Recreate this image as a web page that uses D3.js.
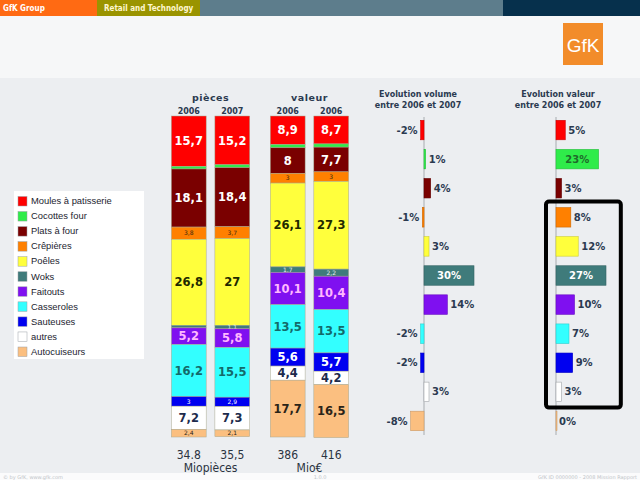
<!DOCTYPE html>
<html>
<head>
<meta charset="utf-8">
<script src="https://cdn.jsdelivr.net/npm/d3@7"></script>
<style>
  body { margin: 0; background: #eceef1; }
  svg { display: block; }
</style>
</head>
<body>
<svg id="chart" width="640" height="480"></svg>
<script>
// categories, top of the stack first
const categories = ["Moules à patisserie", "Cocottes four", "Plats à four", "Crêpières", "Poêles",
  "Woks", "Faitouts", "Casseroles", "Sauteuses", "autres", "Autocuiseurs"];
const colors = ["#ff0000", "#2fec4a", "#7a0000", "#ff8000", "#ffff3c",
  "#3f7b7b", "#7f10f0", "#33ffff", "#0000f0", "#ffffff", "#fbbf80"];
const labelColors = ["#ffffff", "#1a5a20", "#ffffff", "#3a2a10", "#1f2a00",
  "#e6eeee", "#ffb8ff", "#136a6a", "#ffffff", "#1d2b4c", "#2a2418"];

const groups = ["pièces", "valeur"];
const years = ["2006", "2007", "2006", "2006"];
const pieces2006 = [15.7, 0.8, 18.1, 3.8, 26.8, 0.8, 5.2, 16.2, 3, 7.2, 2.4];
const pieces2007 = [15.2, 0.9, 18.4, 3.7, 27, 1.1, 5.8, 15.5, 2.9, 7.3, 2.1];
const valeur2006 = [8.9, 1.0, 8, 3, 26.1, 1.7, 10.1, 13.5, 5.6, 4.4, 17.7];
const valeur2007 = [8.7, 1.0, 7.7, 3, 27.3, 2.2, 10.4, 13.5, 5.7, 4.2, 16.5];
const totals = ["34.8", "35,5", "386", "416"];
const units = ["Miopièces", "Mio€"];

const evolVolume = [-2, 1, 4, -1, 3, 30, 14, -2, -2, 3, -8];
const evolValeur = [5, 23, 3, 8, 12, 27, 10, 7, 9, 3, 0];

const svg = d3.select("#chart");
const FONT = "DejaVu Sans, sans-serif";
const COND = "DejaVu Sans Condensed, sans-serif";
const navy = "#2b3a50";

// page frame
svg.append("rect").attr("x", 0).attr("y", 16).attr("width", 640).attr("height", 62).attr("fill", "#f6f7f8");
svg.append("rect").attr("x", 0).attr("y", 0).attr("width", 97).attr("height", 16).attr("fill", "#ff6a13");
svg.append("rect").attr("x", 97).attr("y", 0).attr("width", 103).attr("height", 16).attr("fill", "#9a9400");
svg.append("rect").attr("x", 200).attr("y", 0).attr("width", 303).attr("height", 16).attr("fill", "#5d7d8c");
svg.append("rect").attr("x", 503).attr("y", 0).attr("width", 137).attr("height", 16).attr("fill", "#06304c");
svg.append("text").attr("x", 3).attr("y", 11).text("GfK Group")
  .attr("font-family", COND).attr("font-size", 8).attr("font-weight", "bold").attr("fill", "#fff");
svg.append("clipPath").attr("id", "hdr").append("rect").attr("x", 97).attr("y", 0).attr("width", 103).attr("height", 16);
svg.append("text").attr("x", 104).attr("y", 11).text("Retail and Technology")
  .attr("clip-path", "url(#hdr)")
  .attr("font-family", COND).attr("font-size", 8).attr("font-weight", "bold").attr("fill", "#fff8d0");

svg.append("rect").attr("x", 563).attr("y", 23).attr("width", 40).attr("height", 42).attr("fill", "#f28c2a");
svg.append("text").attr("x", 583).attr("y", 52).attr("text-anchor", "middle").text("GfK")
  .attr("font-family", "Liberation Sans, sans-serif").attr("font-size", 19).attr("fill", "#fff");

// footer
svg.append("rect").attr("x", 0).attr("y", 473).attr("width", 640).attr("height", 7).attr("fill", "#fbfbfc");
const foot = svg.append("g").attr("font-family", FONT).attr("font-size", 5).attr("fill", "#c0c4c8");
foot.append("text").attr("x", 3).attr("y", 479).text("© by GfK, www.gfk.com");
foot.append("text").attr("x", 320).attr("y", 479).attr("text-anchor", "middle").text("1.0.0");
foot.append("text").attr("x", 637).attr("y", 479).attr("text-anchor", "end").text("GfK ID 0000000 - 2008 Mission Rapport");

// legend
const leg = svg.append("g");
leg.append("rect").attr("x", 14).attr("y", 191).attr("width", 130).attr("height", 168).attr("fill", "#fff");
const legY = d3.scalePoint().domain(categories).range([201, 351.5]);
categories.forEach((c, i) => {
  leg.append("rect").attr("x", 18).attr("y", legY(c) - 4.5).attr("width", 9).attr("height", 9.5)
    .attr("fill", colors[i]).attr("stroke", "#9aa0a6").attr("stroke-width", 0.5);
  leg.append("text").attr("x", 31).attr("y", legY(c)).attr("dy", "0.35em").text(c)
    .attr("font-family", "Liberation Sans, sans-serif").attr("font-size", 9.4).attr("fill", "#1c2430");
});

// stacked bars
const bars = [pieces2006, pieces2007, valeur2006, valeur2007].map((vals, b) => {
  const row = { group: groups[Math.floor(b / 2)], idx: b % 2, year: years[b], total: totals[b] };
  categories.forEach((c, i) => row[c] = vals[i]);
  return row;
});

const x0 = d3.scaleBand().domain(groups).range([167, 353]).paddingInner(0.12);
const x1 = d3.scaleBand().domain([0, 1]).range([0, x0.bandwidth()]).paddingInner(0.2).paddingOuter(0.1);
const y = d3.scaleLinear().domain([0, 100]).range([116, 437]);

const series = d3.stack().keys(categories)(bars);
const barG = svg.append("g");
series.forEach((s, i) => {
  s.forEach(d => {
    const bx = x0(d.data.group) + x1(d.data.idx);
    const v = d.data[s.key];
    barG.append("rect").attr("x", bx).attr("y", y(d[0])).attr("width", x1.bandwidth())
      .attr("height", y(d[1]) - y(d[0])).attr("fill", colors[i])
      .attr("stroke", "#a8a890").attr("stroke-width", 0.5);
    if (v > 1) {
      const small = v < 4;
      barG.append("text").attr("x", bx + x1.bandwidth() / 2).attr("y", y((d[0] + d[1]) / 2))
        .attr("dy", "0.36em").attr("text-anchor", "middle")
        .text(String(v).replace(".", ","))
        .attr("font-family", FONT).attr("font-weight", small ? "normal" : "bold")
        .attr("font-size", small ? 6 : 11.5).attr("fill", labelColors[i]);
    }
  });
});

bars.forEach(d => {
  const cx = x0(d.group) + x1(d.idx) + x1.bandwidth() / 2;
  svg.append("text").attr("x", cx).attr("y", 114).attr("text-anchor", "middle").text(d.year)
    .attr("font-family", FONT).attr("font-weight", "bold").attr("font-size", 8).attr("fill", navy);
  svg.append("text").attr("x", cx).attr("y", 459).attr("text-anchor", "middle").text(d.total)
    .attr("font-family", COND).attr("font-size", 12).attr("fill", "#2a3340");
});
groups.forEach((g, i) => {
  const cx = x0(g) + x0.bandwidth() / 2;
  svg.append("text").attr("x", cx).attr("y", 101).attr("text-anchor", "middle").text(g)
    .attr("font-family", FONT).attr("font-weight", "bold").attr("font-size", 9.5)
    .attr("letter-spacing", 0.5).attr("fill", navy);
  svg.append("text").attr("x", cx).attr("y", 472).attr("text-anchor", "middle").text(units[i])
    .attr("font-family", COND).attr("font-size", 12).attr("fill", "#2a3340");
});

// evolution charts
const rowY = d3.scaleBand().domain(categories).range([115.5, 435.5]).paddingInner(0.33).paddingOuter(0.165);
const xVol = d3.scaleLinear().domain([0, 30]).range([424, 474]);
const xVal = d3.scaleLinear().domain([0, 27]).range([556, 606]);

function evolution(vals, x, title, titleX, inside) {
  const g = svg.append("g");
  title.forEach((t, k) => g.append("text").attr("x", titleX).attr("y", 97 + k * 10.5)
    .attr("text-anchor", "middle").text(t)
    .attr("font-family", FONT).attr("font-weight", "bold").attr("font-size", 8).attr("fill", navy));
  g.append("line").attr("x1", x(0)).attr("x2", x(0)).attr("y1", 117).attr("y2", 435)
    .attr("stroke", "#a8acb0").attr("stroke-width", 1);
  categories.forEach((c, i) => {
    const v = vals[i];
    const x0p = Math.min(x(0), x(v));
    const w = Math.max(1, Math.abs(x(v) - x(0)));
    g.append("rect").attr("x", x0p).attr("y", rowY(c)).attr("width", w).attr("height", rowY.bandwidth())
      .attr("fill", colors[i]).attr("stroke", i === 9 ? "#a0a4a8" : d3.color(colors[i]).darker(0.6))
      .attr("stroke-width", 0.6);
    const t = g.append("text").attr("y", rowY(c) + rowY.bandwidth() / 2).attr("dy", "0.36em")
      .text(v + "%").attr("font-family", FONT).attr("font-weight", "bold").attr("font-size", 10);
    if (inside[i]) {
      t.attr("x", (x(0) + x(v)) / 2).attr("text-anchor", "middle").attr("fill", inside[i]);
    } else if (v < 0) {
      t.attr("x", x(v) - 3).attr("text-anchor", "end").attr("fill", navy);
    } else {
      t.attr("x", x(v) + 3).attr("fill", navy);
    }
  });
}

evolution(evolVolume, xVol, ["Evolution volume", "entre 2006 et 2007"], 418, { 5: "#ffffff" });
evolution(evolValeur, xVal, ["Evolution valeur", "entre 2006 et 2007"], 558, { 1: "#1f6a2a", 5: "#ffffff" });

// highlight frame around Crêpières..autres in the value chart
svg.append("rect")
  .attr("x", xVal(-5.4)).attr("y", rowY(categories[3]) - 6)
  .attr("width", xVal(35) - xVal(-5.4))
  .attr("height", rowY(categories[9]) + rowY.bandwidth() + 6 - (rowY(categories[3]) - 6))
  .attr("rx", 3).attr("fill", "none").attr("stroke", "#000").attr("stroke-width", 4);
</script>
</body>
</html>
